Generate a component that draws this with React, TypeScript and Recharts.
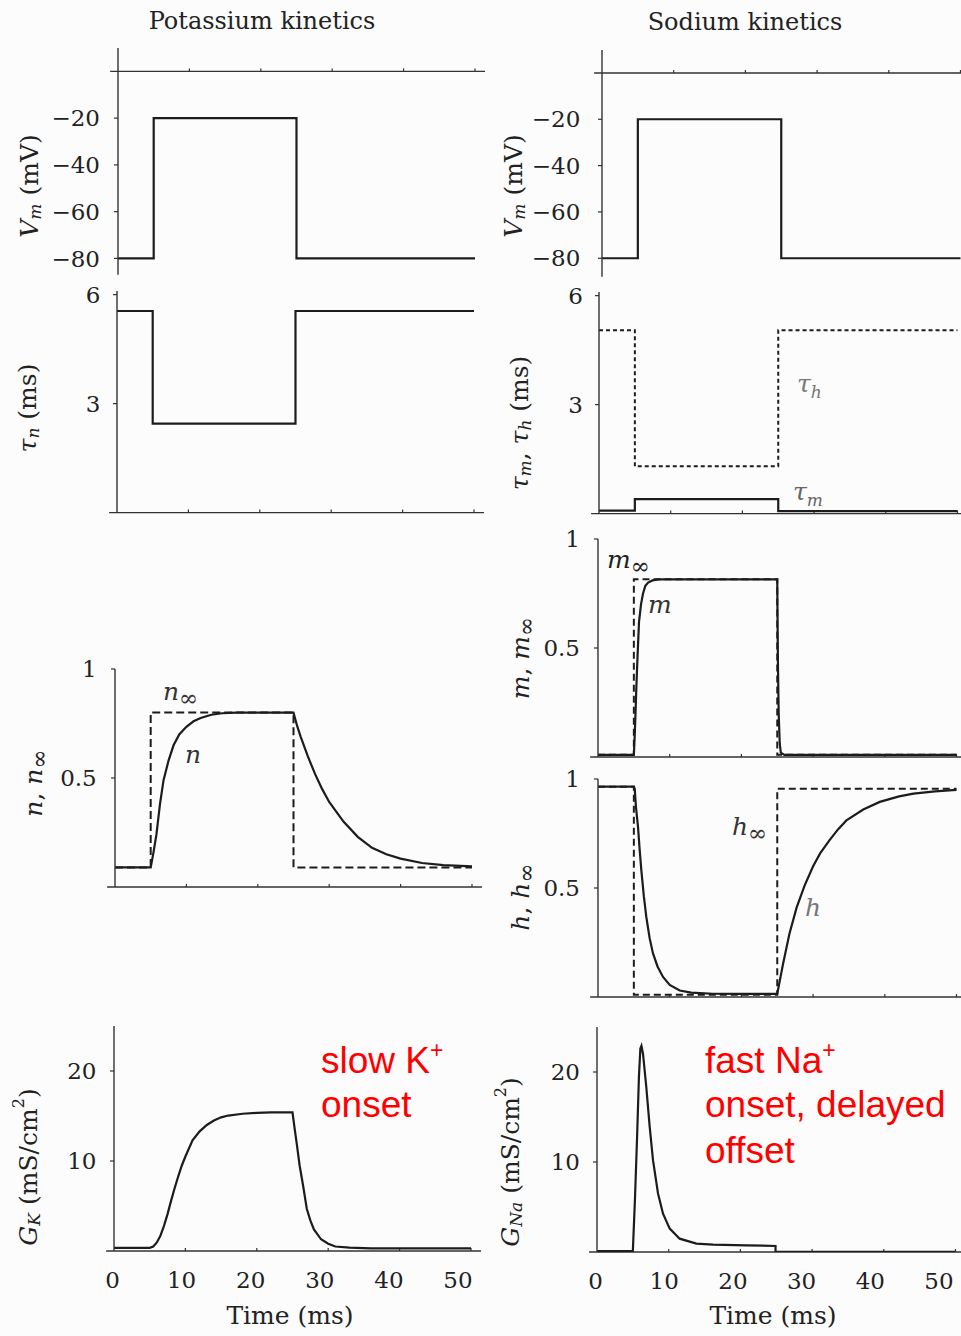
import { LineChart, Line, XAxis, YAxis, ReferenceLine } from "recharts"

const xTicks = [0, 10, 20, 30, 40, 50]

// voltage step protocol: -80 -> -20 -> -80 mV
const stepT = [0, 5, 5, 25, 25, 50]
const vmK = [-80, -80, -20, -20, -80, -80]
const vmNa = [-80, -80, -20, -20, -80, -80]

// time constants (ms)
const tauN = [5.55, 5.55, 2.45, 2.45, 5.55, 5.55]
const tauH = [5.05, 5.05, 1.3, 1.3, 5.05, 5.05]
const tauM = [0.08, 0.08, 0.4, 0.4, 0.07, 0.07]

// steady states
const nInf = [0.09, 0.09, 0.8, 0.8, 0.09, 0.09]
const mInf = [0.01, 0.01, 0.815, 0.815, 0.01, 0.01]
const hInf = [0.965, 0.965, 0.01, 0.01, 0.955, 0.955]

// gating variables
const nT = [0, 5, 5.4, 5.8, 6.3, 6.8, 7.5, 8.2, 9, 10, 11, 12, 13.5, 15, 17, 19, 22, 25, 25.5, 26, 27, 28, 29, 30, 32, 34, 36, 38, 40, 43, 46, 50]
const nV = [0.09, 0.09, 0.16, 0.24, 0.38, 0.49, 0.58, 0.65, 0.7, 0.735, 0.76, 0.775, 0.79, 0.797, 0.8, 0.8, 0.8, 0.8, 0.74, 0.69, 0.6, 0.52, 0.45, 0.39, 0.3, 0.23, 0.18, 0.15, 0.13, 0.11, 0.1, 0.095]

const mT = [0, 5, 5.1, 5.2, 5.35, 5.5, 5.72, 6, 6.28, 6.6, 7, 7.6, 8.5, 25, 25.05, 25.1, 25.2, 25.35, 25.5, 26, 50]
const mV = [0.01, 0.01, 0.08, 0.17, 0.32, 0.45, 0.62, 0.7, 0.75, 0.785, 0.8, 0.81, 0.815, 0.815, 0.6, 0.42, 0.2, 0.06, 0.02, 0.01, 0.01]

const hT = [0, 5, 5.12, 5.3, 5.58, 5.8, 6.05, 6.4, 6.74, 7.2, 7.67, 8.3, 9.07, 10, 11.4, 13, 16, 20, 25, 25.8, 26.7, 27.7, 28.8, 30, 31, 32.3, 33.5, 34.65, 37, 39.3, 42, 44, 47, 50]
const hV = [0.965, 0.965, 0.955, 0.87, 0.78, 0.68, 0.58, 0.46, 0.367, 0.27, 0.2, 0.14, 0.092, 0.055, 0.03, 0.02, 0.015, 0.014, 0.014, 0.15, 0.29, 0.41, 0.51, 0.6, 0.66, 0.72, 0.77, 0.81, 0.86, 0.895, 0.92, 0.933, 0.943, 0.95]

// conductances (mS/cm^2)
const gkT = [0, 5, 5.5, 6, 6.5, 7, 7.5, 8, 8.5, 9, 9.5, 10, 11, 12, 13, 14, 15, 16, 18, 20, 22, 25, 25.3, 25.6, 26, 26.5, 27, 27.5, 28, 29, 30, 31, 33, 36, 40, 50]
const gkV = [0.35, 0.35, 0.5, 0.95, 1.7, 2.8, 4.1, 5.6, 7.0, 8.3, 9.5, 10.5, 12.3, 13.3, 14.0, 14.5, 14.85, 15.05, 15.25, 15.35, 15.4, 15.4, 13.6, 11.9, 9.5, 7.2, 4.7, 3.4, 2.4, 1.3, 0.8, 0.5, 0.38, 0.3, 0.3, 0.3]

const gnaT = [0, 5, 5.3, 5.6, 5.85, 6.05, 6.2, 6.42, 6.88, 7.35, 7.81, 8.51, 9.21, 10.14, 11.53, 13.86, 16.19, 20.84, 24.9, 24.9, 50]
const gnaV = [0.1, 0.1, 6, 13, 19.5, 22.6, 22.9, 22.0, 18.3, 13.9, 10.2, 6.5, 4.26, 2.6, 1.48, 0.93, 0.81, 0.74, 0.67, 0.03, 0.03]

const pts = (t: number[], v: number[]) => t.map((x, i) => ({ t: x, v: v[i] }))

const SERIF = "'DejaVu Serif', serif"
const INK = "#1c1c1c"
const X_MAX = 51.4

type Series = { data: { t: number; v: number }[]; dash?: string; width?: number }

type PanelProps = {
  x0: number
  ppm: number
  yTop: number
  yBottom: number
  domain: [number, number]
  yTicks: number[]
  gap: number
  series: Series[]
  fmt?: (v: number) => string
  xLabels?: boolean
  shrink?: number
}

function Panel({ x0, ppm, yTop, yBottom, domain, yTicks, gap, series, fmt, xLabels, shrink = 0 }: PanelProps) {
  const YW = 80
  const MT = 22
  const XH = xLabels ? 40 : 0
  const plotW = X_MAX * ppm
  const plotH = yBottom - yTop
  const perUnit = plotH / (domain[1] - domain[0])
  const tickLen = 3 / perUnit

  return (
    <div style={{ position: "absolute", left: x0 - YW, top: yTop - MT }}>
      <LineChart width={YW + plotW + 10} height={MT + plotH + XH + 4} margin={{ top: MT, right: 10, bottom: 4, left: 0 }}>
        <XAxis
          type="number"
          dataKey="t"
          domain={[0, X_MAX]}
          ticks={xTicks}
          allowDataOverflow
          hide={!xLabels}
          height={XH}
          axisLine={false}
          tickLine={false}
          tickSize={4}
          tickMargin={17}
          tick={(p: any) => (
            <text
              x={p.x - 1.5 - p.payload.value * shrink}
              y={p.y}
              dy="0.71em"
              textAnchor="middle"
              fontFamily={SERIF}
              fontSize={23}
              fill="#222"
            >
              {p.payload.value}
            </text>
          )}
        />
        <YAxis
          type="number"
          domain={domain}
          ticks={yTicks}
          allowDataOverflow
          width={YW}
          interval={0}
          axisLine={{ stroke: "#333", strokeWidth: 1.4 }}
          tickLine={{ stroke: "#333", strokeWidth: 1.2 }}
          tickSize={4}
          tickMargin={gap - 4}
          tickFormatter={fmt}
          tick={{ fontFamily: SERIF, fontSize: 23, fill: "#222" }}
        />
        <ReferenceLine
          segment={[{ x: -1.1, y: 0 }, { x: X_MAX, y: 0 }]}
          ifOverflow="visible"
          stroke="#333"
          strokeWidth={1.4}
        />
        {xTicks.slice(1).map((t) => (
          <ReferenceLine
            key={t}
            segment={[{ x: t, y: 0 }, { x: t, y: tickLen }]}
            ifOverflow="visible"
            stroke="#333"
            strokeWidth={1.2}
          />
        ))}
        {series.map((s, i) => (
          <Line
            key={i}
            data={s.data}
            dataKey="v"
            type="linear"
            dot={false}
            isAnimationActive={false}
            stroke={INK}
            strokeWidth={s.width ?? 2.2}
            strokeDasharray={s.dash}
          />
        ))}
      </LineChart>
    </div>
  )
}

const minus = (v: number) => (v < 0 ? `\u2212${Math.abs(v)}` : `${v}`)

export default function App() {
  const left = 7.14
  const right = 7.17
  const lab = { fontFamily: SERIF, fontSize: 25, fill: "#222" } as const
  const red = { fontFamily: "'Liberation Sans', Arial, sans-serif", fontSize: 37, fill: "#ff0000" } as const
  const inf = 23

  return (
    <div style={{ position: "absolute", left: 0, top: 0, width: 961, height: 1336, overflow: "hidden", background: "#fcfcfc" }}>
      {/* potassium column */}
      <Panel x0={118} ppm={left} yTop={47.9} yBottom={274.7} domain={[-87, 10]} yTicks={[-80, -60, -40, -20]} gap={18} fmt={minus}
        series={[{ data: pts(stepT, vmK) }]} />
      <Panel x0={116.7} ppm={left} yTop={291.4} yBottom={513} domain={[0, 6.1]} yTicks={[3, 6]} gap={16.7}
        series={[{ data: pts(stepT, tauN) }]} />
      <Panel x0={115} ppm={left} yTop={669} yBottom={887} domain={[0, 1]} yTicks={[0.5, 1]} gap={18.3}
        series={[{ data: pts(stepT, nInf), dash: "8 4", width: 2 }, { data: pts(nT, nV) }]} />
      <Panel x0={114.3} ppm={left} yTop={1025.7} yBottom={1250.7} domain={[0, 25]} yTicks={[10, 20]} gap={17.6} xLabels shrink={0.23}
        series={[{ data: pts(gkT, gkV) }]} />

      {/* sodium column */}
      <Panel x0={601.7} ppm={right} yTop={50} yBottom={276.8} domain={[-88, 9.9]} yTicks={[-80, -60, -40, -20]} gap={21.7} fmt={minus}
        series={[{ data: pts(stepT, vmNa) }]} />
      <Panel x0={599.3} ppm={right} yTop={291.7} yBottom={513.3} domain={[0, 6.1]} yTicks={[3, 6]} gap={16}
        series={[{ data: pts(stepT, tauH), dash: "4 3", width: 2 }, { data: pts(stepT, tauM) }]} />
      <Panel x0={598.3} ppm={right} yTop={538.7} yBottom={756.7} domain={[0, 1]} yTicks={[0.5, 1]} gap={18}
        series={[{ data: pts(stepT, mInf), dash: "7 4", width: 2 }, { data: pts(mT, mV) }]} />
      <Panel x0={598.3} ppm={right} yTop={778.7} yBottom={996.7} domain={[0, 1]} yTicks={[0.5, 1]} gap={18}
        series={[{ data: pts(stepT, hInf), dash: "7 4", width: 2 }, { data: pts(hT, hV) }]} />
      <Panel x0={597.3} ppm={right} yTop={1026.7} yBottom={1251.7} domain={[0, 25]} yTicks={[10, 20]} gap={17} xLabels shrink={0.3}
        series={[{ data: pts(gnaT, gnaV) }]} />

      <svg width={961} height={1336} style={{ position: "absolute", left: 0, top: 0, pointerEvents: "none" }}>
        <text x={262} y={29} textAnchor="middle" fontFamily={SERIF} fontSize={24} fill="#222">Potassium kinetics</text>
        <text x={745} y={30} textAnchor="middle" fontFamily={SERIF} fontSize={24} fill="#222">Sodium kinetics</text>

        {/* y axis titles */}
        <text transform="translate(29,186) rotate(-90)" textAnchor="middle" dominantBaseline="central" {...lab}>
          <tspan fontStyle="italic">V</tspan><tspan fontStyle="italic" fontSize={17} dy={6}>m</tspan><tspan dy={-6}> (mV)</tspan>
        </text>
        <text transform="translate(513,186) rotate(-90)" textAnchor="middle" dominantBaseline="central" {...lab}>
          <tspan fontStyle="italic">V</tspan><tspan fontStyle="italic" fontSize={17} dy={6}>m</tspan><tspan dy={-6}> (mV)</tspan>
        </text>
        <text transform="translate(27,408) rotate(-90)" textAnchor="middle" dominantBaseline="central" {...lab}>
          <tspan fontStyle="italic">τ</tspan><tspan fontStyle="italic" fontSize={17} dy={6}>n</tspan><tspan dy={-6}> (ms)</tspan>
        </text>
        <text transform="translate(519,423) rotate(-90)" textAnchor="middle" dominantBaseline="central" {...lab}>
          <tspan fontStyle="italic">τ</tspan><tspan fontStyle="italic" fontSize={17} dy={6}>m</tspan><tspan dy={-6}>, </tspan>
          <tspan fontStyle="italic">τ</tspan><tspan fontStyle="italic" fontSize={17} dy={6}>h</tspan><tspan dy={-6}> (ms)</tspan>
        </text>
        <text transform="translate(33,783) rotate(-90)" textAnchor="middle" dominantBaseline="central" {...lab}>
          <tspan fontStyle="italic">n</tspan><tspan>, </tspan><tspan fontStyle="italic">n</tspan><tspan fontSize={inf} dy={6}>∞</tspan>
        </text>
        <text transform="translate(520,658) rotate(-90)" textAnchor="middle" dominantBaseline="central" {...lab}>
          <tspan fontStyle="italic">m</tspan><tspan>, </tspan><tspan fontStyle="italic">m</tspan><tspan fontSize={inf} dy={6}>∞</tspan>
        </text>
        <text transform="translate(520,897) rotate(-90)" textAnchor="middle" dominantBaseline="central" {...lab}>
          <tspan fontStyle="italic">h</tspan><tspan>, </tspan><tspan fontStyle="italic">h</tspan><tspan fontSize={inf} dy={6}>∞</tspan>
        </text>
        <text transform="translate(28,1167) rotate(-90)" textAnchor="middle" dominantBaseline="central" {...lab}>
          <tspan fontStyle="italic">G</tspan><tspan fontStyle="italic" fontSize={17} dy={6}>K</tspan>
          <tspan dy={-6} dx={8}>(mS/cm</tspan><tspan fontSize={16} dy={-10}>2</tspan><tspan dy={10}>)</tspan>
        </text>
        <text transform="translate(510,1162) rotate(-90)" textAnchor="middle" dominantBaseline="central" {...lab}>
          <tspan fontStyle="italic">G</tspan><tspan fontStyle="italic" fontSize={17} dy={6}>Na</tspan>
          <tspan dy={-6} dx={8}>(mS/cm</tspan><tspan fontSize={16} dy={-10}>2</tspan><tspan dy={10}>)</tspan>
        </text>

        {/* x axis titles */}
        <text x={290} y={1324} textAnchor="middle" {...lab}>Time (ms)</text>
        <text x={773} y={1324} textAnchor="middle" {...lab}>Time (ms)</text>

        {/* inline curve labels */}
        <text x={163} y={700} {...lab} fill="#333"><tspan fontStyle="italic">n</tspan><tspan fontSize={inf} dy={6}>∞</tspan></text>
        <text x={185} y={763} {...lab} fill="#333" fontStyle="italic">n</text>
        <text x={607} y={568} {...lab} fill="#222"><tspan fontStyle="italic">m</tspan><tspan fontSize={inf} dy={6}>∞</tspan></text>
        <text x={648} y={613} {...lab} fill="#333" fontStyle="italic">m</text>
        <text x={732} y={835} {...lab} fill="#333"><tspan fontStyle="italic">h</tspan><tspan fontSize={inf} dy={6}>∞</tspan></text>
        <text x={805} y={916} {...lab} fill="#777" fontStyle="italic">h</text>
        <text x={797} y={392} {...lab} fill="#777"><tspan fontStyle="italic">τ</tspan><tspan fontStyle="italic" fontSize={17} dy={6}>h</tspan></text>
        <text x={793} y={500} {...lab} fill="#666"><tspan fontStyle="italic">τ</tspan><tspan fontStyle="italic" fontSize={17} dy={6}>m</tspan></text>

        {/* annotations */}
        <text x={321} y={1073} {...red}>slow K<tspan fontSize={23} dy={-15}>+</tspan></text>
        <text x={321} y={1117} {...red}>onset</text>
        <text x={705} y={1073} {...red}>fast Na<tspan fontSize={23} dy={-15}>+</tspan></text>
        <text x={705} y={1117} {...red}>onset, delayed</text>
        <text x={705} y={1163} {...red}>offset</text>
      </svg>
    </div>
  )
}
